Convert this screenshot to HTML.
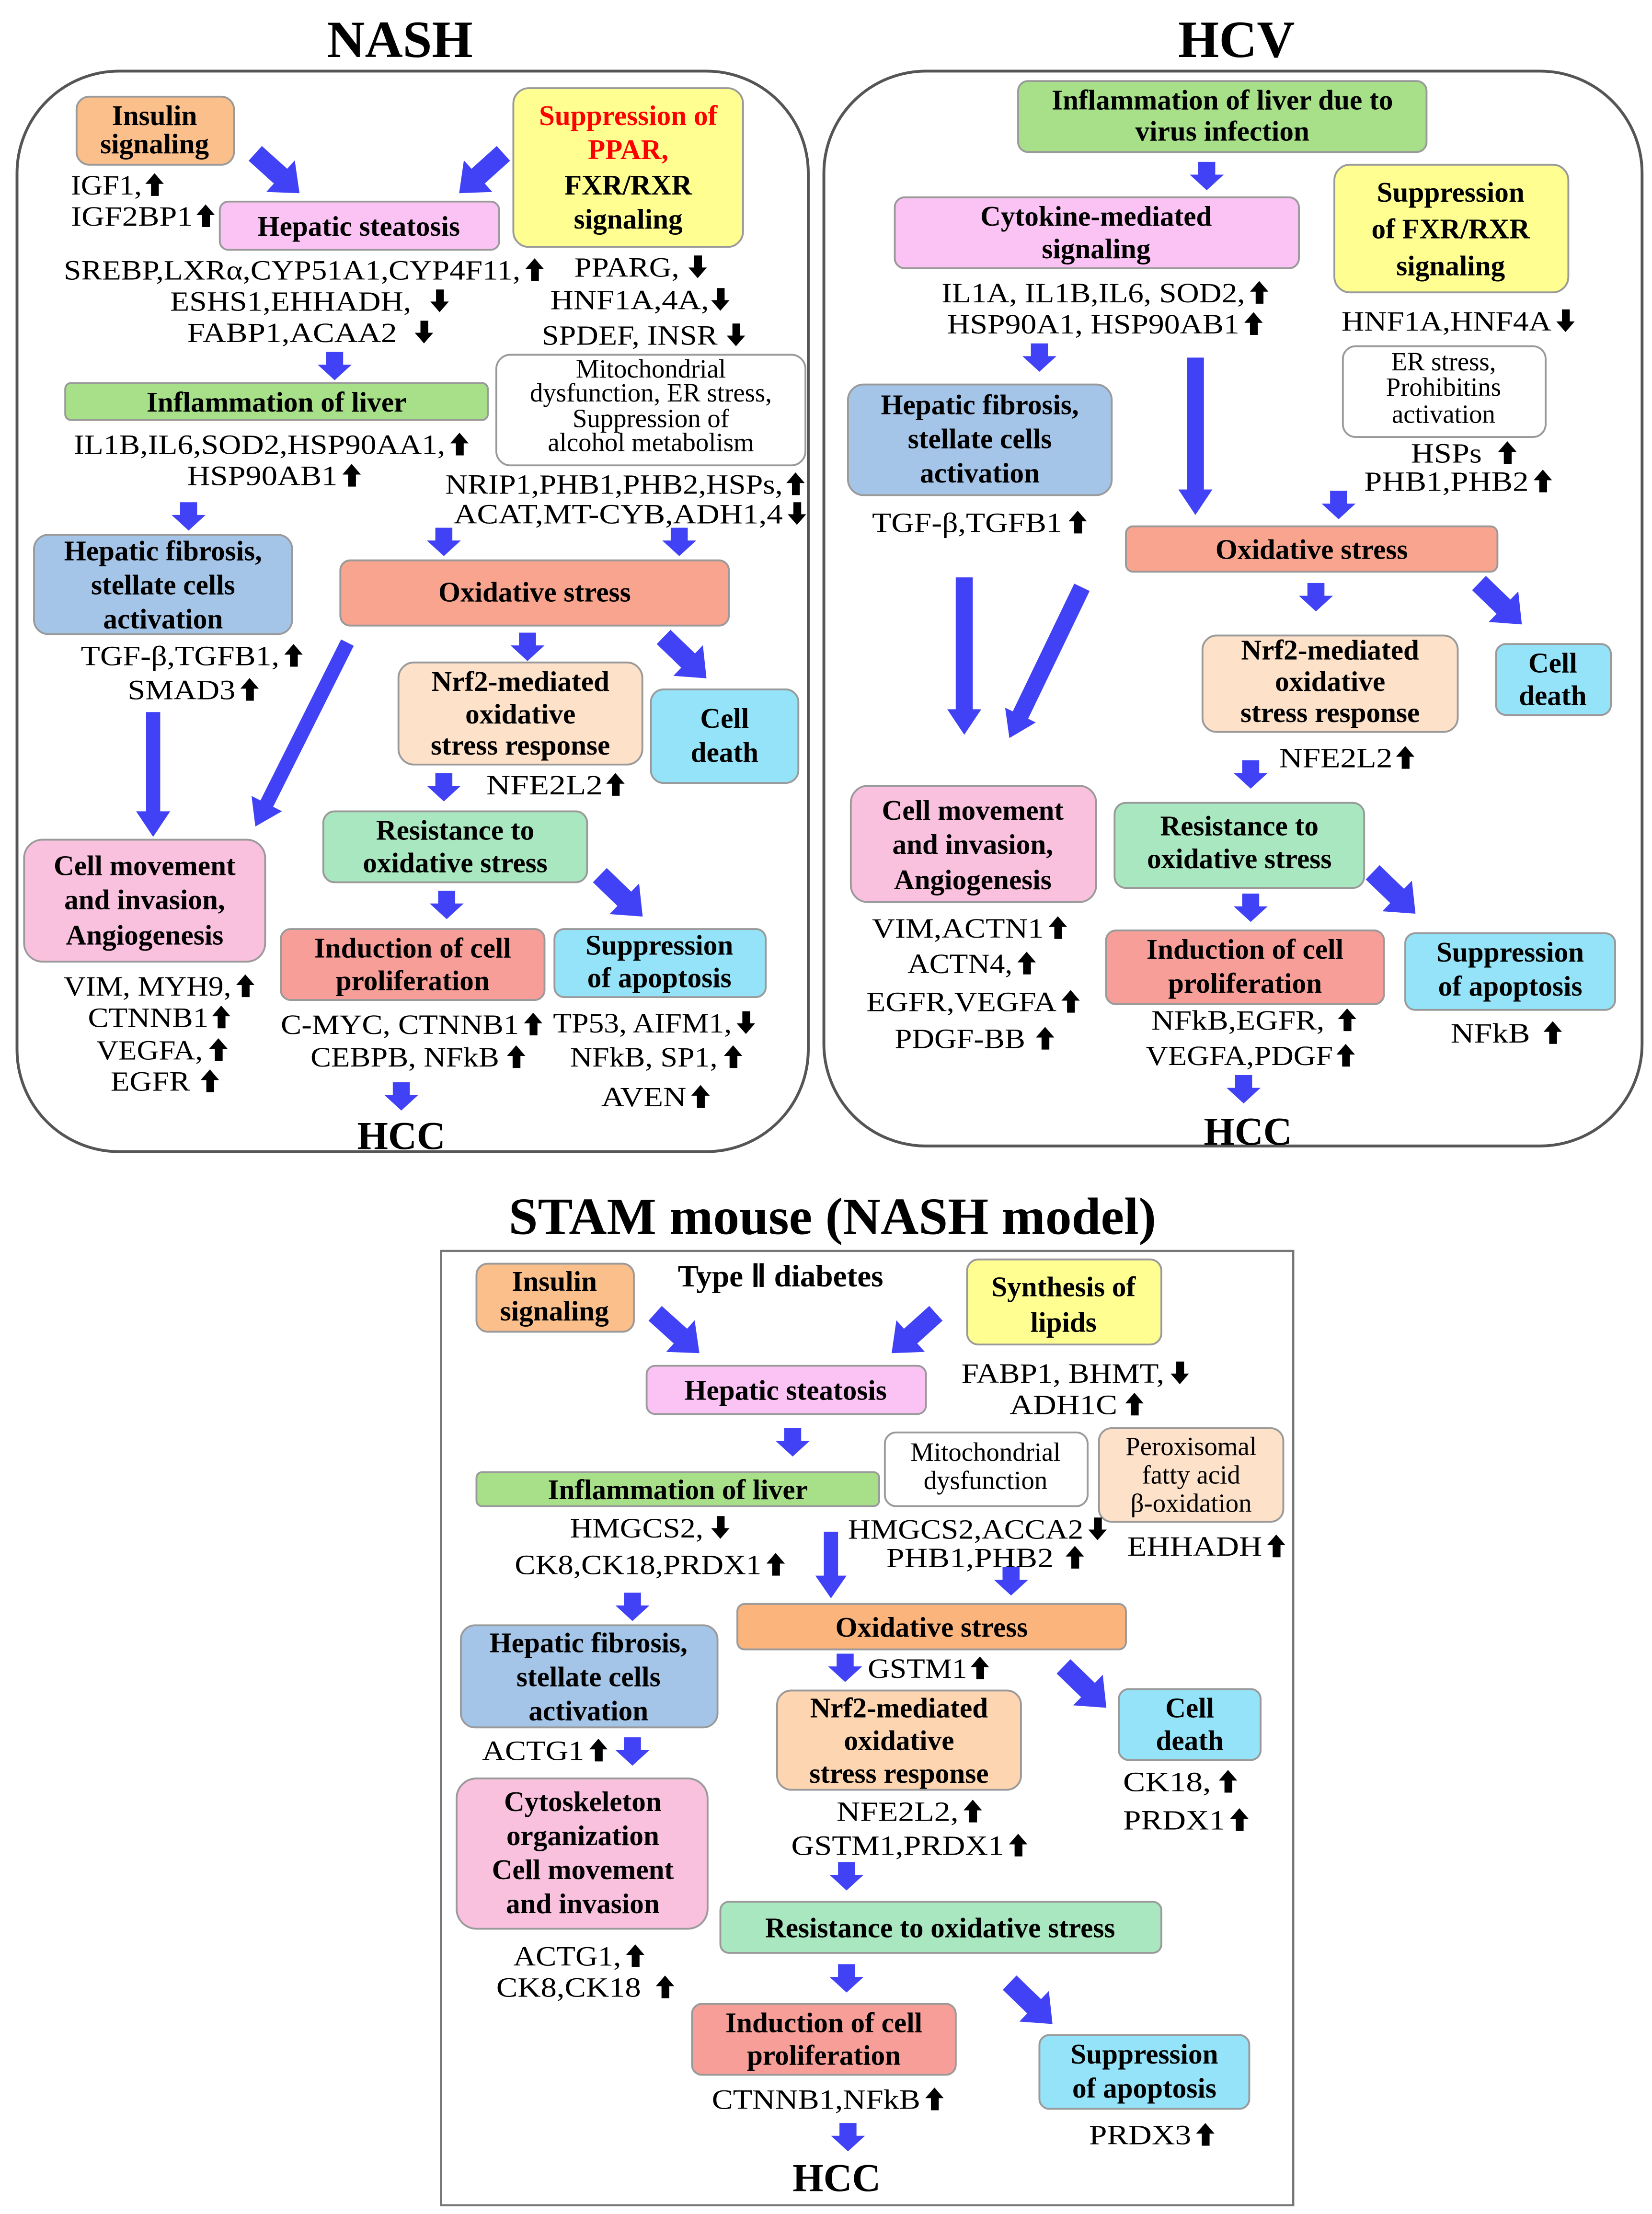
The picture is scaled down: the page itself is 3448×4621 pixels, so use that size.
<!DOCTYPE html>
<html><head><meta charset="utf-8"><style>
html,body{margin:0;padding:0;background:#fff}
svg{display:block}
text{font-family:"Liberation Serif",serif}
.b{font-weight:bold;font-size:20px;text-anchor:middle}
.t{font-size:19.5px}
.n{font-size:18.5px;text-anchor:middle}
.bx{stroke:#9a9a9a;stroke-width:1.3}
.ar{fill:#4141f5}
</style></head><body>
<svg width="3448" height="4621" viewBox="0 0 1165 1561" xmlns="http://www.w3.org/2000/svg">
<defs>
<polygon id="up" points="6,0 12.5,7.5 9,7.5 9,16 3.5,16 3.5,7.5 -0.5,7.5" fill="#000"/>
<polygon id="dn" points="6,16 12.5,8.5 9,8.5 9,0 3.5,0 3.5,8.5 -0.5,8.5" fill="#000"/>
<polygon id="sd" class="ar" points="0,-6 9,-6 9,-12 20,0 9,12 9,6 0,6"/>
<polygon id="dg" class="ar" points="0,-7 24,-7 24,-15 42,0 24,15 24,7 0,7"/>
</defs>
<rect width="1165" height="1561" fill="#fff"/>

<!-- Titles -->
<text x="282" y="40" style="font-size:37px;font-weight:bold;text-anchor:middle">NASH</text>
<text x="872" y="40" style="font-size:37px;font-weight:bold;text-anchor:middle">HCV</text>
<text x="587" y="870" style="font-size:37px;font-weight:bold;text-anchor:middle">STAM mouse (NASH model)</text>

<!-- Panels -->
<rect x="12" y="50" width="558" height="762" rx="72" fill="none" stroke="#555" stroke-width="2"/>
<rect x="581" y="50" width="577" height="758" rx="72" fill="none" stroke="#555" stroke-width="2"/>
<rect x="311" y="882" width="601" height="673" fill="none" stroke="#777" stroke-width="1.5"/>

<!-- ===== NASH ===== -->
<rect class="bx" x="54" y="68" width="111" height="48" rx="9" fill="#fbbf8c"/>
<text class="b" x="109" y="88">Insulin</text><text class="b" x="109" y="108">signaling</text>
<rect class="bx" x="362" y="62" width="162" height="112" rx="11" fill="#ffff91"/>
<text class="b" x="443" y="88" fill="#f00">Suppression of</text>
<text class="b" x="443" y="112" fill="#f00">PPAR,</text>
<text class="b" x="443" y="137">FXR/RXR</text>
<text class="b" x="443" y="161">signaling</text>
<rect class="bx" x="155" y="142" width="197" height="34" rx="6" fill="#fbc3f3"/>
<text class="b" x="253" y="166">Hepatic steatosis</text>
<text class="t" x="50" y="137" textLength="50" lengthAdjust="spacingAndGlyphs">IGF1,</text><use href="#up" x="103" y="122"/>
<text class="t" x="50" y="159" textLength="86" lengthAdjust="spacingAndGlyphs">IGF2BP1</text><use href="#up" x="139" y="144"/>
<text class="t" x="45" y="197" textLength="322" lengthAdjust="spacingAndGlyphs">SREBP,LXRα,CYP51A1,CYP4F11,</text><use href="#up" x="371" y="182"/>
<text class="t" x="120" y="219" textLength="170" lengthAdjust="spacingAndGlyphs">ESHS1,EHHADH,</text><use href="#dn" x="304" y="204"/>
<text class="t" x="132" y="241" textLength="148" lengthAdjust="spacingAndGlyphs">FABP1,ACAA2</text><use href="#dn" x="293" y="226"/>
<text class="t" x="405" y="195" textLength="74" lengthAdjust="spacingAndGlyphs">PPARG,</text><use href="#dn" x="486" y="180"/>
<text class="t" x="388" y="218" textLength="112" lengthAdjust="spacingAndGlyphs">HNF1A,4A,</text><use href="#dn" x="502" y="203"/>
<text class="t" x="382" y="243" textLength="124" lengthAdjust="spacingAndGlyphs">SPDEF, INSR</text><use href="#dn" x="513" y="228"/>
<rect class="bx" x="46" y="270" width="298" height="26" rx="4" fill="#a7e089"/>
<text class="b" x="195" y="290">Inflammation of liver</text>
<rect class="bx" x="350" y="250" width="218" height="78" rx="10" fill="#fff"/>
<text class="n" x="459" y="266">Mitochondrial</text>
<text class="n" x="459" y="283">dysfunction, ER stress,</text>
<text class="n" x="459" y="301">Suppression of</text>
<text class="n" x="459" y="318">alcohol metabolism</text>
<text class="t" x="52" y="320" textLength="262" lengthAdjust="spacingAndGlyphs">IL1B,IL6,SOD2,HSP90AA1,</text><use href="#up" x="318" y="305"/>
<text class="t" x="132" y="342" textLength="106" lengthAdjust="spacingAndGlyphs">HSP90AB1</text><use href="#up" x="242" y="327"/>
<text class="t" x="314" y="348" textLength="238" lengthAdjust="spacingAndGlyphs">NRIP1,PHB1,PHB2,HSPs,</text><use href="#up" x="555" y="333"/>
<text class="t" x="320" y="369" textLength="232" lengthAdjust="spacingAndGlyphs">ACAT,MT-CYB,ADH1,4</text><use href="#dn" x="556" y="354"/>
<rect class="bx" x="24" y="377" width="182" height="70" rx="10" fill="#a4c5e8"/>
<text class="b" x="115" y="395">Hepatic fibrosis,</text><text class="b" x="115" y="419">stellate cells</text><text class="b" x="115" y="443">activation</text>
<rect class="bx" x="240" y="395" width="274" height="46" rx="7" fill="#f8a48e"/>
<text class="b" x="377" y="424">Oxidative stress</text>
<text class="t" x="57" y="469" textLength="140" lengthAdjust="spacingAndGlyphs">TGF-β,TGFB1,</text><use href="#up" x="201" y="454"/>
<text class="t" x="90" y="493" textLength="76" lengthAdjust="spacingAndGlyphs">SMAD3</text><use href="#up" x="170" y="478"/>
<rect class="bx" x="281" y="467" width="172" height="72" rx="11" fill="#fde1c9"/>
<text class="b" x="367" y="487">Nrf2-mediated</text><text class="b" x="367" y="510">oxidative</text><text class="b" x="367" y="532">stress response</text>
<rect class="bx" x="459" y="486" width="104" height="66" rx="9" fill="#94e3f8"/>
<text class="b" x="511" y="513">Cell</text><text class="b" x="511" y="537">death</text>
<text class="t" x="343" y="560" textLength="82" lengthAdjust="spacingAndGlyphs">NFE2L2</text><use href="#up" x="428" y="545"/>
<rect class="bx" x="228" y="572" width="186" height="50" rx="8" fill="#a9e7c0"/>
<text class="b" x="321" y="592">Resistance to</text><text class="b" x="321" y="615">oxidative stress</text>
<rect class="bx" x="17" y="592" width="170" height="86" rx="13" fill="#f9c1de"/>
<text class="b" x="102" y="617">Cell  movement</text><text class="b" x="102" y="641">and invasion,</text><text class="b" x="102" y="666">Angiogenesis</text>
<rect class="bx" x="198" y="655" width="186" height="50" rx="7" fill="#f79e99"/>
<text class="b" x="291" y="675">Induction of cell</text><text class="b" x="291" y="698">proliferation</text>
<rect class="bx" x="391" y="655" width="149" height="48" rx="7" fill="#94e3f8"/>
<text class="b" x="465" y="673">Suppression</text><text class="b" x="465" y="696">of apoptosis</text>
<text class="t" x="45" y="702" textLength="118" lengthAdjust="spacingAndGlyphs">VIM, MYH9,</text><use href="#up" x="167" y="687"/>
<text class="t" x="62" y="724" textLength="85" lengthAdjust="spacingAndGlyphs">CTNNB1</text><use href="#up" x="150" y="709"/>
<text class="t" x="68" y="747" textLength="75" lengthAdjust="spacingAndGlyphs">VEGFA,</text><use href="#up" x="148" y="732"/>
<text class="t" x="78" y="769" textLength="56" lengthAdjust="spacingAndGlyphs">EGFR</text><use href="#up" x="142" y="754"/>
<text class="t" x="198" y="729" textLength="168" lengthAdjust="spacingAndGlyphs">C-MYC, CTNNB1</text><use href="#up" x="370" y="714"/>
<text class="t" x="219" y="752" textLength="133" lengthAdjust="spacingAndGlyphs">CEBPB, NFkB</text><use href="#up" x="358" y="737"/>
<text class="t" x="390" y="728" textLength="126" lengthAdjust="spacingAndGlyphs">TP53, AIFM1,</text><use href="#dn" x="520" y="713"/>
<text class="t" x="402" y="752" textLength="104" lengthAdjust="spacingAndGlyphs">NFkB, SP1,</text><use href="#up" x="511" y="737"/>
<text class="t" x="424" y="780" textLength="60" lengthAdjust="spacingAndGlyphs">AVEN</text><use href="#up" x="488" y="765"/>
<text x="283" y="810" style="font-size:28px;font-weight:bold;text-anchor:middle">HCC</text>
<!-- NASH arrows -->
<use href="#dg" transform="translate(180,108) rotate(42)"/>
<use href="#dg" transform="translate(355,108) rotate(138)"/>
<use href="#sd" transform="translate(236,248) rotate(90)"/>
<use href="#sd" transform="translate(133,354) rotate(90)"/>
<use href="#sd" transform="translate(313,372) rotate(90)"/>
<use href="#sd" transform="translate(479,372) rotate(90)"/>
<use href="#sd" transform="translate(372,446) rotate(90)"/>
<use href="#dg" transform="translate(468,449) rotate(44)"/>
<polygon class="ar" transform="translate(108,502) rotate(90)" points="0,-5 70,-5 70,-12 88,0 70,12 70,5 0,5"/>
<polygon class="ar" transform="translate(245,453) rotate(116.6)" points="0,-5 127,-5 127,-12 145,0 127,12 127,5 0,5"/>
<use href="#sd" transform="translate(313,545) rotate(90)"/>
<use href="#sd" transform="translate(315,628) rotate(90)"/>
<use href="#dg" transform="translate(423,617) rotate(44)"/>
<use href="#sd" transform="translate(283,763) rotate(90)"/>

<!-- ===== HCV ===== -->
<rect class="bx" x="718" y="57" width="288" height="50" rx="7" fill="#a7e089"/>
<text class="b" x="862" y="77">Inflammation of liver due to</text><text class="b" x="862" y="99">virus infection</text>
<rect class="bx" x="631" y="139" width="285" height="50" rx="7" fill="#fbc3f3"/>
<text class="b" x="773" y="159">Cytokine-mediated</text><text class="b" x="773" y="182">signaling</text>
<rect class="bx" x="941" y="116" width="165" height="90" rx="11" fill="#ffff91"/>
<text class="b" x="1023" y="142">Suppression</text><text class="b" x="1023" y="168">of FXR/RXR</text><text class="b" x="1023" y="194">signaling</text>
<text class="t" x="664" y="213" textLength="214" lengthAdjust="spacingAndGlyphs">IL1A, IL1B,IL6, SOD2,</text><use href="#up" x="882" y="198"/>
<text class="t" x="668" y="235" textLength="206" lengthAdjust="spacingAndGlyphs">HSP90A1, HSP90AB1</text><use href="#up" x="878" y="220"/>
<text class="t" x="946" y="233" textLength="148" lengthAdjust="spacingAndGlyphs">HNF1A,HNF4A</text><use href="#dn" x="1098" y="218"/>
<rect class="bx" x="947" y="244" width="143" height="64" rx="9" fill="#fff"/>
<text class="n" x="1018" y="261">ER stress,</text><text class="n" x="1018" y="279">Prohibitins</text><text class="n" x="1018" y="298">activation</text>
<text class="t" x="995" y="326" textLength="50" lengthAdjust="spacingAndGlyphs">HSPs</text><use href="#up" x="1057" y="311"/>
<text class="t" x="962" y="346" textLength="116" lengthAdjust="spacingAndGlyphs">PHB1,PHB2</text><use href="#up" x="1082" y="331"/>
<rect class="bx" x="598" y="271" width="186" height="78" rx="11" fill="#a4c5e8"/>
<text class="b" x="691" y="292">Hepatic fibrosis,</text><text class="b" x="691" y="316">stellate cells</text><text class="b" x="691" y="340">activation</text>
<text class="t" x="615" y="375" textLength="134" lengthAdjust="spacingAndGlyphs">TGF-β,TGFB1</text><use href="#up" x="754" y="360"/>
<rect class="bx" x="794" y="371" width="262" height="32" rx="5" fill="#f8a48e"/>
<text class="b" x="925" y="394">Oxidative stress</text>
<rect class="bx" x="848" y="448" width="180" height="68" rx="10" fill="#fde1c9"/>
<text class="b" x="938" y="465">Nrf2-mediated</text><text class="b" x="938" y="487">oxidative</text><text class="b" x="938" y="509">stress response</text>
<rect class="bx" x="1055" y="454" width="81" height="50" rx="7" fill="#94e3f8"/>
<text class="b" x="1095" y="474">Cell</text><text class="b" x="1095" y="497">death</text>
<text class="t" x="902" y="541" textLength="80" lengthAdjust="spacingAndGlyphs">NFE2L2</text><use href="#up" x="985" y="526"/>
<rect class="bx" x="600" y="554" width="173" height="82" rx="12" fill="#f9c1de"/>
<text class="b" x="686" y="578">Cell  movement</text><text class="b" x="686" y="602">and invasion,</text><text class="b" x="686" y="627">Angiogenesis</text>
<rect class="bx" x="786" y="566" width="176" height="60" rx="8" fill="#a9e7c0"/>
<text class="b" x="874" y="589">Resistance to</text><text class="b" x="874" y="612">oxidative stress</text>
<rect class="bx" x="780" y="656" width="196" height="52" rx="7" fill="#f79e99"/>
<text class="b" x="878" y="676">Induction of cell</text><text class="b" x="878" y="700">proliferation</text>
<rect class="bx" x="991" y="658" width="148" height="54" rx="7" fill="#94e3f8"/>
<text class="b" x="1065" y="678">Suppression</text><text class="b" x="1065" y="702">of apoptosis</text>
<text class="t" x="615" y="661" textLength="121" lengthAdjust="spacingAndGlyphs">VIM,ACTN1</text><use href="#up" x="740" y="646"/>
<text class="t" x="640" y="686" textLength="74" lengthAdjust="spacingAndGlyphs">ACTN4,</text><use href="#up" x="718" y="671"/>
<text class="t" x="611" y="713" textLength="134" lengthAdjust="spacingAndGlyphs">EGFR,VEGFA</text><use href="#up" x="749" y="698"/>
<text class="t" x="631" y="739" textLength="92" lengthAdjust="spacingAndGlyphs">PDGF-BB</text><use href="#up" x="731" y="724"/>
<text class="t" x="812" y="726" textLength="122" lengthAdjust="spacingAndGlyphs">NFkB,EGFR,</text><use href="#up" x="944" y="711"/>
<text class="t" x="808" y="751" textLength="132" lengthAdjust="spacingAndGlyphs">VEGFA,PDGF</text><use href="#up" x="943" y="736"/>
<text class="t" x="1023" y="735" textLength="56" lengthAdjust="spacingAndGlyphs">NFkB</text><use href="#up" x="1089" y="720"/>
<text x="880" y="807" style="font-size:28px;font-weight:bold;text-anchor:middle">HCC</text>
<!-- HCV arrows -->
<use href="#sd" transform="translate(851,114) rotate(90)"/>
<use href="#sd" transform="translate(733,242) rotate(90)"/>
<polygon class="ar" transform="translate(843,252) rotate(90)" points="0,-6 93,-6 93,-12 111,0 93,12 93,6 0,6"/>
<polygon class="ar" transform="translate(680,407) rotate(90)" points="0,-6 93,-6 93,-12 111,0 93,12 93,6 0,6"/>
<polygon class="ar" transform="translate(763,414) rotate(115.7)" points="0,-6 100,-6 100,-12 118,0 100,12 100,6 0,6"/>
<use href="#sd" transform="translate(944,346) rotate(90)"/>
<use href="#sd" transform="translate(928,411) rotate(90)"/>
<use href="#dg" transform="translate(1043,411) rotate(44)"/>
<use href="#sd" transform="translate(882,536) rotate(90)"/>
<use href="#sd" transform="translate(882,630) rotate(90)"/>
<use href="#dg" transform="translate(968,615) rotate(44)"/>
<use href="#sd" transform="translate(877,758) rotate(90)"/>

<!-- ===== STAM ===== -->
<rect class="bx" x="336" y="891" width="111" height="48" rx="8" fill="#fbbf8c"/>
<text class="b" x="391" y="910">Insulin</text><text class="b" x="391" y="931">signaling</text>
<text x="478" y="907" style="font-size:22px;font-weight:bold">Type Ⅱ diabetes</text>
<rect class="bx" x="682" y="888" width="137" height="60" rx="8" fill="#ffff91"/>
<text class="b" x="750" y="914">Synthesis of</text><text class="b" x="750" y="939">lipids</text>
<rect class="bx" x="456" y="963" width="197" height="34" rx="6" fill="#fbc3f3"/>
<text class="b" x="554" y="987">Hepatic steatosis</text>
<text class="t" x="678" y="975" textLength="143" lengthAdjust="spacingAndGlyphs">FABP1, BHMT,</text><use href="#dn" x="826" y="960"/>
<text class="t" x="712" y="997" textLength="76" lengthAdjust="spacingAndGlyphs">ADH1C</text><use href="#up" x="794" y="982"/>
<rect class="bx" x="624" y="1010" width="143" height="52" rx="8" fill="#fff"/>
<text class="n" x="695" y="1030">Mitochondrial</text><text class="n" x="695" y="1050">dysfunction</text>
<rect class="bx" x="775" y="1007" width="130" height="66" rx="9" fill="#fde1c9"/>
<text class="n" x="840" y="1026">Peroxisomal</text><text class="n" x="840" y="1046">fatty acid</text><text class="n" x="840" y="1066">β-oxidation</text>
<rect class="bx" x="336" y="1038" width="284" height="24" rx="4" fill="#a7e089"/>
<text class="b" x="478" y="1057">Inflammation of liver</text>
<text class="t" x="402" y="1084" textLength="94" lengthAdjust="spacingAndGlyphs">HMGCS2,</text><use href="#dn" x="502" y="1069"/>
<text class="t" x="363" y="1110" textLength="174" lengthAdjust="spacingAndGlyphs">CK8,CK18,PRDX1</text><use href="#up" x="541" y="1095"/>
<text class="t" x="598" y="1085" textLength="166" lengthAdjust="spacingAndGlyphs">HMGCS2,ACCA2</text><use href="#dn" x="768" y="1070"/>
<text class="t" x="625" y="1105" textLength="118" lengthAdjust="spacingAndGlyphs">PHB1,PHB2</text><use href="#up" x="752" y="1090"/>
<text class="t" x="795" y="1097" textLength="95" lengthAdjust="spacingAndGlyphs">EHHADH</text><use href="#up" x="894" y="1082"/>
<rect class="bx" x="325" y="1146" width="181" height="72" rx="10" fill="#a4c5e8"/>
<text class="b" x="415" y="1165">Hepatic fibrosis,</text><text class="b" x="415" y="1189">stellate cells</text><text class="b" x="415" y="1213">activation</text>
<rect class="bx" x="520" y="1131" width="274" height="32" rx="5" fill="#fbb47c"/>
<text class="b" x="657" y="1154">Oxidative stress</text>
<text class="t" x="612" y="1183" textLength="70" lengthAdjust="spacingAndGlyphs">GSTM1</text><use href="#up" x="685" y="1168"/>
<rect class="bx" x="548" y="1192" width="172" height="70" rx="10" fill="#fdd5b1"/>
<text class="b" x="634" y="1211">Nrf2-mediated</text><text class="b" x="634" y="1234">oxidative</text><text class="b" x="634" y="1257">stress response</text>
<rect class="bx" x="789" y="1191" width="100" height="50" rx="7" fill="#94e3f8"/>
<text class="b" x="839" y="1211">Cell</text><text class="b" x="839" y="1234">death</text>
<text class="t" x="792" y="1263" textLength="62" lengthAdjust="spacingAndGlyphs">CK18,</text><use href="#up" x="860" y="1248"/>
<text class="t" x="792" y="1290" textLength="72" lengthAdjust="spacingAndGlyphs">PRDX1</text><use href="#up" x="868" y="1275"/>
<text class="t" x="340" y="1241" textLength="72" lengthAdjust="spacingAndGlyphs">ACTG1</text><use href="#up" x="416" y="1226"/>
<rect class="bx" x="322" y="1254" width="177" height="106" rx="14" fill="#f9c1de"/>
<text class="b" x="411" y="1277">Cytoskeleton</text><text class="b" x="411" y="1301">organization</text><text class="b" x="411" y="1325">Cell  movement</text><text class="b" x="411" y="1349">and invasion</text>
<text class="t" x="590" y="1284" textLength="86" lengthAdjust="spacingAndGlyphs">NFE2L2,</text><use href="#up" x="680" y="1269"/>
<text class="t" x="558" y="1308" textLength="150" lengthAdjust="spacingAndGlyphs">GSTM1,PRDX1</text><use href="#up" x="712" y="1293"/>
<rect class="bx" x="508" y="1341" width="311" height="36" rx="6" fill="#a9e7c0"/>
<text class="b" x="663" y="1366">Resistance to oxidative stress</text>
<text class="t" x="362" y="1386" textLength="76" lengthAdjust="spacingAndGlyphs">ACTG1,</text><use href="#up" x="442" y="1371"/>
<text class="t" x="350" y="1408" textLength="102" lengthAdjust="spacingAndGlyphs">CK8,CK18</text><use href="#up" x="463" y="1393"/>
<rect class="bx" x="488" y="1413" width="186" height="50" rx="7" fill="#f79e99"/>
<text class="b" x="581" y="1433">Induction of cell</text><text class="b" x="581" y="1456">proliferation</text>
<rect class="bx" x="733" y="1435" width="148" height="52" rx="7" fill="#94e3f8"/>
<text class="b" x="807" y="1455">Suppression</text><text class="b" x="807" y="1479">of apoptosis</text>
<text class="t" x="502" y="1487" textLength="147" lengthAdjust="spacingAndGlyphs">CTNNB1,NFkB</text><use href="#up" x="653" y="1472"/>
<text class="t" x="768" y="1512" textLength="72" lengthAdjust="spacingAndGlyphs">PRDX3</text><use href="#up" x="844" y="1497"/>
<text x="590" y="1545" style="font-size:28px;font-weight:bold;text-anchor:middle">HCC</text>
<!-- STAM arrows -->
<use href="#dg" transform="translate(462,926) rotate(42)"/>
<use href="#dg" transform="translate(660,926) rotate(138)"/>
<use href="#sd" transform="translate(559,1007) rotate(90)"/>
<polygon class="ar" transform="translate(586,1080) rotate(90)" points="0,-5 31,-5 31,-11 47,0 31,11 31,5 0,5"/>
<use href="#sd" transform="translate(713,1105) rotate(90)"/>
<use href="#sd" transform="translate(446,1123) rotate(90)"/>
<use href="#sd" transform="translate(446,1225) rotate(90)"/>
<use href="#sd" transform="translate(596,1166) rotate(90)"/>
<use href="#dg" transform="translate(750,1175) rotate(44)"/>
<use href="#sd" transform="translate(597,1313) rotate(90)"/>
<use href="#sd" transform="translate(597,1385) rotate(90)"/>
<use href="#dg" transform="translate(712,1398) rotate(44)"/>
<use href="#sd" transform="translate(598,1497) rotate(90)"/>
</svg>
</body></html>
